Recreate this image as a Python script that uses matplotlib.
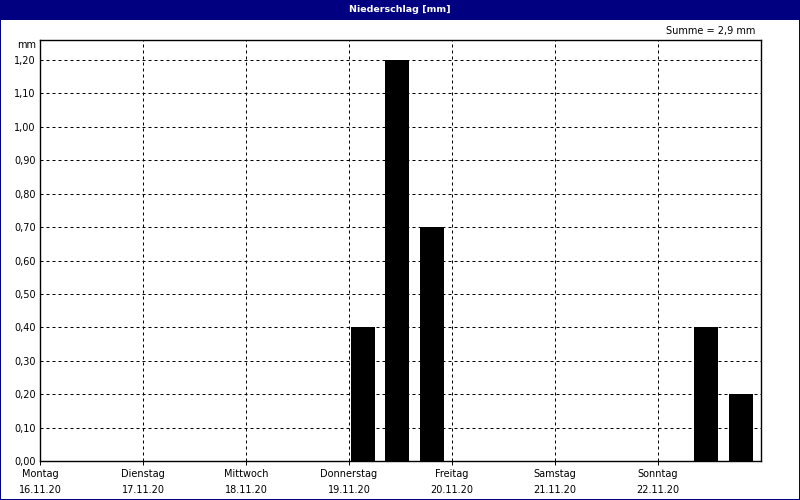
import numpy as np
import matplotlib
matplotlib.use("Agg")
from matplotlib import pyplot as plt
from matplotlib.patches import Rectangle

days = ["Montag", "Dienstag", "Mittwoch", "Donnerstag", "Freitag", "Samstag", "Sonntag"]
dates = ["16.11.20", "17.11.20", "18.11.20", "19.11.20", "20.11.20", "21.11.20", "22.11.20"]
# precipitation per 8-hour slot (3 per day), mm
precip = [0.0, 0.0, 0.0,
          0.0, 0.0, 0.0,
          0.0, 0.0, 0.0,
          0.4, 1.2, 0.7,
          0.0, 0.0, 0.0,
          0.0, 0.0, 0.0,
          0.0, 0.4, 0.2]
yticks = np.arange(0, 1.21, 0.1)

NAVY = "#000080"
W, H = 800, 500

fig = plt.figure(figsize=(8, 5), dpi=100)
fig.patch.set_facecolor("white")

# title bar and 1px border (filled strips, so no antialiasing blur)
for x0, y0, w, h in [(0, 1 - 20 / H, 1, 20 / H),
                     (0, 0, 1 / W, 1), (1 - 1 / W, 0, 1 / W, 1), (0, 0, 1, 1 / H)]:
    fig.patches.append(Rectangle((x0, y0), w, h, transform=fig.transFigure,
                                 facecolor=NAVY, edgecolor="none", zorder=0))
fig.text(0.5, 1 - 10 / H, "Niederschlag [mm]", color="white", fontsize=6.8,
         fontweight="bold", ha="center", va="center")

ax = fig.add_axes([40 / W, 39 / H, (761 - 40) / W, (461 - 40) / H])
ax.set_facecolor("white")

slots = np.arange(len(precip)) / 3.0
ax.bar(slots + 0.018, precip, width=0.233, align="edge", color="#000000", zorder=3)

ax.set_xlim(0, 7)
ax.set_ylim(0, 1.26)

ax.set_yticks(yticks)
ax.set_yticklabels([f"{v:.2f}".replace(".", ",") for v in yticks], fontsize=7)
ax.set_xticks(np.arange(7))
ax.set_xticklabels([f"{d}\n{dt}" for d, dt in zip(days, dates)], fontsize=7, linespacing=1.7)

ax.tick_params(axis="y", length=0, pad=3)
ax.tick_params(axis="x", length=3, width=0.7, pad=3, direction="out")

for v in yticks[1:]:
    ax.axhline(v, color="black", linewidth=0.72, dashes=(3, 3), zorder=1)
for d in range(1, 7):
    ax.axvline(d, color="black", linewidth=0.72, dashes=(3, 3), zorder=1)

for s in ax.spines.values():
    s.set_linewidth(1.0)
    s.set_color("black")

fig.text(36 / W, 1 - 45 / H, "mm", fontsize=7, ha="right", va="center")
fig.text(755 / W, 1 - 31 / H, "Summe = 2,9 mm", fontsize=7, ha="right", va="center")

fig.savefig("out.png", dpi=100)
